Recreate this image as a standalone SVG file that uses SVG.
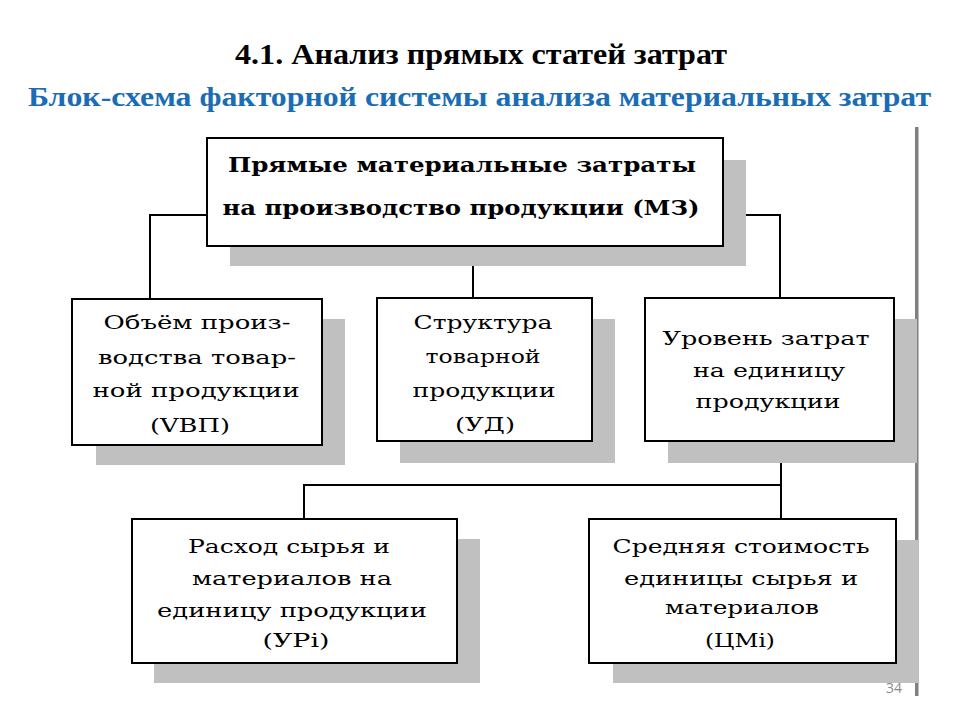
<svg xmlns="http://www.w3.org/2000/svg" width="960" height="720" viewBox="0 0 960 720">
<style>
.bg{fill:#ffffff}
.shadow{fill:#c0c0c0}
.box{fill:#ffffff;stroke:#000000;stroke-width:2}
.conn{fill:none;stroke:#000000;stroke-width:2}
.t{font-family:'DejaVu Serif','Liberation Serif',serif;font-size:19px;fill:#000000;text-anchor:middle}
.tb{font-family:'DejaVu Serif','Liberation Serif',serif;font-size:20px;font-weight:bold;fill:#000000;text-anchor:middle}
.title{font-family:'Liberation Serif','DejaVu Serif',serif;font-size:29px;font-weight:bold;fill:#000000;text-anchor:middle}
.sub{font-family:'Liberation Serif','DejaVu Serif',serif;font-size:27px;font-weight:bold;fill:#1a6db5;text-anchor:middle}
.pn{font-family:'Open Sans','Liberation Sans',sans-serif;font-size:14px;fill:#8a8a8a}
</style>
<rect class="bg" x="0" y="0" width="960" height="720"/>
<text class="title" x="481" y="64" textLength="492" lengthAdjust="spacingAndGlyphs">4.1. Анализ прямых статей затрат</text>
<text class="sub" x="479.5" y="106" textLength="903" lengthAdjust="spacingAndGlyphs">Блок-схема факторной системы анализа материальных затрат</text>
<rect x="915" y="127" width="3.5" height="569" fill="#808080"/>
<text class="pn" x="886" y="693">34</text>
<g id="connectors">
<polyline class="conn" points="207,215 150,215 150,299"/>
<polyline class="conn" points="723,215 780,215 780,298"/>
<line class="conn" x1="473" y1="246" x2="473" y2="298"/>
<line class="conn" x1="781" y1="441" x2="781" y2="485"/>
<polyline class="conn" points="304,519 304,485 781,485 781,519"/>
</g>
<g id="n_mz">
<rect class="shadow" x="230" y="160" width="516" height="106"/>
<rect class="box" x="207" y="138" width="516" height="108"/>
<text class="tb" x="462" y="172" textLength="468" lengthAdjust="spacingAndGlyphs">Прямые материальные затраты</text>
<text class="tb" x="461" y="215" textLength="477" lengthAdjust="spacingAndGlyphs">на производство продукции (МЗ)</text>
</g>
<g id="n_vvp">
<rect class="shadow" x="96" y="319" width="249" height="146"/>
<rect class="box" x="72" y="299" width="250" height="146"/>
<text class="t" x="197" y="329" textLength="187" lengthAdjust="spacingAndGlyphs">Объём произ-</text>
<text class="t" x="197" y="364" textLength="198" lengthAdjust="spacingAndGlyphs">водства товар-</text>
<text class="t" x="196" y="397" textLength="207" lengthAdjust="spacingAndGlyphs">ной продукции</text>
<text class="t" x="190" y="432" textLength="80" lengthAdjust="spacingAndGlyphs">(VBП)</text>
</g>
<g id="n_ud">
<rect class="shadow" x="400" y="319" width="215" height="144"/>
<rect class="box" x="377" y="298" width="215" height="143"/>
<text class="t" x="483" y="329" textLength="139" lengthAdjust="spacingAndGlyphs">Структура</text>
<text class="t" x="483" y="363" textLength="115" lengthAdjust="spacingAndGlyphs">товарной</text>
<text class="t" x="484" y="397" textLength="143" lengthAdjust="spacingAndGlyphs">продукции</text>
<text class="t" x="485" y="431" textLength="60" lengthAdjust="spacingAndGlyphs">(УД)</text>
</g>
<g id="n_level">
<rect class="shadow" x="668" y="319" width="249" height="144"/>
<rect class="box" x="645" y="298" width="249" height="143"/>
<text class="t" x="766" y="345" textLength="207" lengthAdjust="spacingAndGlyphs">Уровень затрат</text>
<text class="t" x="769" y="377" textLength="152" lengthAdjust="spacingAndGlyphs">на единицу</text>
<text class="t" x="768" y="408" textLength="145" lengthAdjust="spacingAndGlyphs">продукции</text>
</g>
<g id="n_urp">
<rect class="shadow" x="154" y="539" width="326" height="144"/>
<rect class="box" x="132" y="519" width="325" height="144"/>
<text class="t" x="289" y="553" textLength="202" lengthAdjust="spacingAndGlyphs">Расход сырья и</text>
<text class="t" x="292" y="585" textLength="200" lengthAdjust="spacingAndGlyphs">материалов на</text>
<text class="t" x="292" y="617" textLength="270" lengthAdjust="spacingAndGlyphs">единицу продукции</text>
<text class="t" x="296" y="647" textLength="67" lengthAdjust="spacingAndGlyphs">(УРi)</text>
</g>
<g id="n_cm">
<rect class="shadow" x="613" y="540" width="305" height="143"/>
<rect class="box" x="589" y="519" width="307" height="144"/>
<text class="t" x="741" y="553" textLength="257" lengthAdjust="spacingAndGlyphs">Средняя стоимость</text>
<text class="t" x="741" y="585" textLength="234" lengthAdjust="spacingAndGlyphs">единицы сырья и</text>
<text class="t" x="742" y="614" textLength="154" lengthAdjust="spacingAndGlyphs">материалов</text>
<text class="t" x="740" y="647" textLength="70" lengthAdjust="spacingAndGlyphs">(ЦМi)</text>
</g>
</svg>
